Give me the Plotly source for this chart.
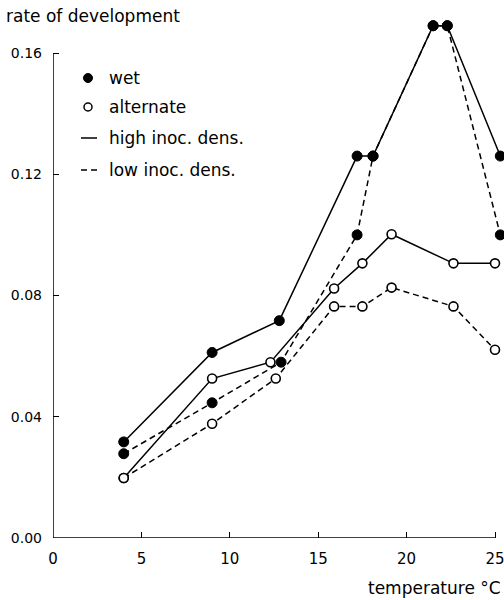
import plotly.graph_objects as go

# Temperature (°C) and rate of development
wet_high_x = [4.0, 9.0, 12.8, 17.2, 18.1, 21.5, 22.3, 25.3]
wet_high_y = [0.0317, 0.0612, 0.0717, 0.126, 0.126, 0.169, 0.169, 0.126]

wet_low_x = [4.0, 9.0, 12.9, 17.2, 18.1, 21.5, 22.3, 25.3]
wet_low_y = [0.0278, 0.0446, 0.058, 0.100, 0.126, 0.169, 0.169, 0.100]

alt_high_x = [4.0, 9.0, 12.3, 15.9, 17.5, 19.15, 22.65, 25.0]
alt_high_y = [0.0198, 0.0526, 0.058, 0.0823, 0.0906, 0.1002, 0.0906, 0.0906]

alt_low_x = [4.0, 9.0, 12.6, 15.9, 17.5, 19.15, 22.65, 25.0]
alt_low_y = [0.0198, 0.0377, 0.0526, 0.0764, 0.0764, 0.0826, 0.0764, 0.0621]

x_ticks = [0, 5, 10, 15, 20, 25]
y_ticks = [0.00, 0.04, 0.08, 0.12, 0.16]
y_tick_labels = ["0.00", "0.04", "0.08", "0.12", "0.16"]

legend_labels = ["wet", "alternate", "high inoc. dens.", "low inoc. dens."]

FONT = "DejaVu Sans"
W, H = 504, 600
# plot area in pixels: x from 53 (T=0) to 504, y from 15 to 538 (rate 0)
L, R, T, B = 53, 0, 15, 62
PW, PH = W - L - R, H - T - B
X_UNIT = 442 / 25.0          # pixels per °C
Y_UNIT = 485 / 0.16          # pixels per rate unit
X_MAX = PW / X_UNIT
Y_MAX = PH / Y_UNIT


def px(x):
    return (x - L) / PW


def py(y):
    return (H - B - y) / PH


fig = go.Figure()

filled = dict(symbol="circle", size=10, color="black", line=dict(color="black", width=1))
hollow = dict(symbol="circle", size=9, color="white", line=dict(color="black", width=1.6))
DASH = "6px,4px"

fig.add_trace(go.Scatter(x=alt_low_x, y=alt_low_y, mode="lines+markers",
                         line=dict(color="black", width=1.5, dash=DASH),
                         marker=hollow, cliponaxis=False, showlegend=False))
fig.add_trace(go.Scatter(x=alt_high_x, y=alt_high_y, mode="lines+markers",
                         line=dict(color="black", width=1.5),
                         marker=hollow, cliponaxis=False, showlegend=False))
fig.add_trace(go.Scatter(x=wet_low_x, y=wet_low_y, mode="lines+markers",
                         line=dict(color="black", width=1.5, dash=DASH),
                         marker=filled, cliponaxis=False, showlegend=False))
fig.add_trace(go.Scatter(x=wet_high_x, y=wet_high_y, mode="lines+markers",
                         line=dict(color="black", width=1.5),
                         marker=filled, cliponaxis=False, showlegend=False))

shapes = []
annotations = []

# axis lines (only over the labelled extent)
shapes.append(dict(type="line", xref="x", yref="y", x0=0, x1=x_ticks[-1], y0=0, y1=0,
                   line=dict(color="black", width=1.5), layer="below"))
shapes.append(dict(type="line", xref="x", yref="y", x0=0, x1=0, y0=0, y1=y_ticks[-1],
                   line=dict(color="black", width=1.5), layer="below"))

# manual legend
leg_y = [78, 107, 138, 170]
r = 4.5
shapes.append(dict(type="circle", xref="paper", yref="paper",
                   x0=px(88 - r), x1=px(88 + r), y0=py(leg_y[0] + r), y1=py(leg_y[0] - r),
                   fillcolor="black", line=dict(color="black", width=1)))
shapes.append(dict(type="circle", xref="paper", yref="paper",
                   x0=px(88 - 4), x1=px(88 + 4), y0=py(leg_y[1] + 4), y1=py(leg_y[1] - 4),
                   fillcolor="white", line=dict(color="black", width=1.5)))
shapes.append(dict(type="line", xref="paper", yref="paper",
                   x0=px(81), x1=px(97), y0=py(leg_y[2]), y1=py(leg_y[2]),
                   line=dict(color="black", width=1.5)))
shapes.append(dict(type="line", xref="paper", yref="paper",
                   x0=px(81), x1=px(97), y0=py(leg_y[3]), y1=py(leg_y[3]),
                   line=dict(color="black", width=1.5, dash=DASH)))
for lab, yy in zip(legend_labels, leg_y):
    annotations.append(dict(text=lab, xref="paper", yref="paper", x=px(107), y=py(yy),
                            xanchor="left", yanchor="middle", showarrow=False,
                            font=dict(family=FONT, size=17, color="black")))

annotations.append(dict(text="rate of development", xref="paper", yref="paper",
                        x=px(4), y=py(16), xanchor="left", yanchor="middle",
                        showarrow=False, font=dict(family=FONT, size=17, color="black")))
annotations.append(dict(text="temperature °C", xref="paper", yref="paper",
                        x=px(503), y=py(588), xanchor="right", yanchor="middle",
                        showarrow=False, font=dict(family=FONT, size=17, color="black")))

fig.update_layout(
    width=W, height=H,
    margin=dict(l=L, r=R, t=T, b=B),
    paper_bgcolor="white", plot_bgcolor="white",
    shapes=shapes, annotations=annotations,
    showlegend=False,
    font=dict(family=FONT, size=15, color="black"),
    xaxis=dict(range=[0, X_MAX], tickvals=x_ticks, showgrid=False, zeroline=False,
               showline=False, ticklabeloverflow="allow",
               ticks="inside", ticklen=6, tickwidth=1.2, tickcolor="black",
               ticklabelstandoff=10, tickfont=dict(family=FONT, size=15)),
    yaxis=dict(range=[0, Y_MAX], tickvals=y_ticks, ticktext=y_tick_labels,
               showgrid=False, zeroline=False,
               showline=False, ticklabeloverflow="allow",
               ticks="inside", ticklen=6, tickwidth=1.2, tickcolor="black",
               ticklabelstandoff=10, tickfont=dict(family=FONT, size=14)),
)

fig.write_html("out.html", config={"displayModeBar": False},
               post_script="document.body.style.margin='0px';")
